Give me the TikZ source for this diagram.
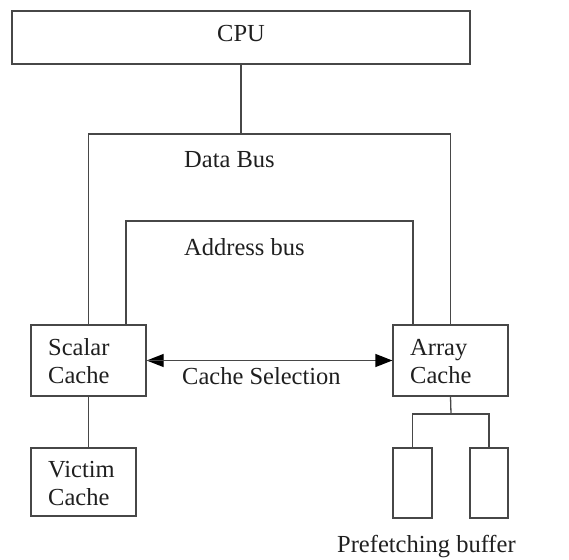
\documentclass[tikz,border=0pt]{standalone}
\usepackage{fontspec}
\setmainfont{Liberation Serif}
\usetikzlibrary{arrows.meta}
\begin{document}
\begin{tikzpicture}[x=1pt,y=-1pt,
  wire/.style={line width=1.3pt, draw=black!72},
  box/.style={draw=black!72, line width=1.3pt, inner sep=0pt, rectangle},
  lbl/.style={inner sep=0pt, anchor=base west, text=black!88, font=\fontsize{24.5}{28}\selectfont, align=left},
  sel/.style={wire, -{Triangle[length=17pt,width=13pt,color=black,fill=black]}}
]
\useasboundingbox (0,0) rectangle (569,559);
% boxes
\node[box, minimum width=458pt, minimum height=53pt] (cpu) at (241,37.5) {};
\node[box, minimum width=115pt, minimum height=71pt] (scalar) at (88.5,360.5) {};
\node[box, minimum width=115pt, minimum height=71pt] (array) at (450.5,360.5) {};
\node[box, minimum width=105pt, minimum height=68pt] (victim) at (83.5,482) {};
\node[box, minimum width=39pt, minimum height=70pt] (buf1) at (412.5,483) {};
\node[box, minimum width=38pt, minimum height=70pt] (buf2) at (489,483) {};
% texts
\node[lbl, anchor=base] (cputxt) at (241,42) {CPU};
\node[lbl] (dbtxt) at (184,167) {Data Bus};
\node[lbl] (abtxt) at (184,255) {Address bus};
\node[lbl] (sctxt) at (48,383) {Scalar\\Cache};
\node[lbl] (artxt) at (410,383) {Array\\Cache};
\node[lbl] (vctxt) at (48,505) {Victim\\Cache};
\node[lbl] (cstxt) at (182,384) {Cache Selection};
\node[lbl] (pbtxt) at (337,552) {Prefetching buffer};
% coordinates
\coordinate (db) at (241,134);
\coordinate (abL) at (126,221);
\coordinate (abR) at (413,221);
\coordinate (br) at (451,414);
% data bus
\draw[wire] (cpu.south) -- (db);
\draw[wire] (scalar.north) |- (db) -| (array.north);
% address bus
\draw[wire] (abL |- scalar.north) -- (abL) -- (abR) -- (abR |- array.north);
% cache selection
\draw[sel] (array.west) -- (scalar.east);
\draw[sel] (scalar.east) -- (array.west);
% victim
\draw[wire] (scalar.south) -- (scalar.south |- victim.north);
% prefetch buffers
\draw[wire] (array.south) -- (br);
\draw[wire] (buf1.north) |- (br) -| (buf2.north);
\end{tikzpicture}
\end{document}
